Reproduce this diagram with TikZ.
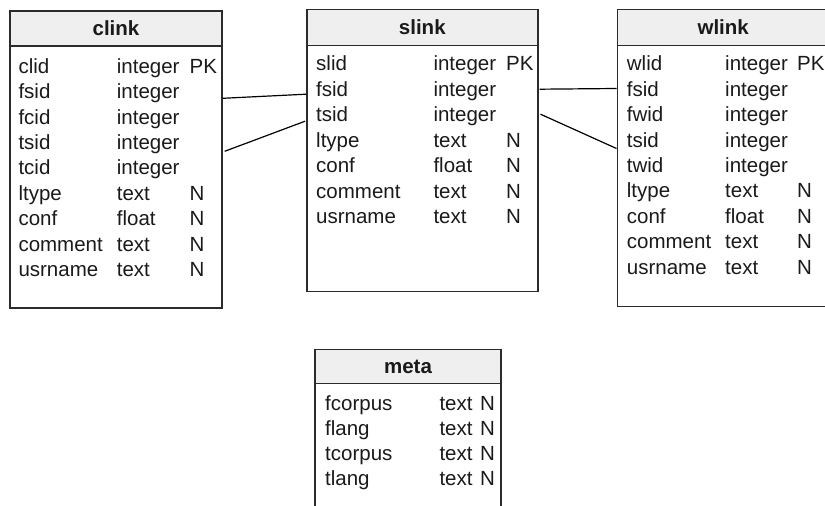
\documentclass[tikz,border=0pt]{standalone}
\usepackage{fontspec}
\setmainfont{Liberation Sans}
\usepackage{tikz}
\usetikzlibrary{positioning}

\definecolor{hdrgray}{HTML}{EFEFEF}
\definecolor{edge}{HTML}{2B2B2B}
\definecolor{txt}{HTML}{1A1A1A}

\begin{document}
\begin{tikzpicture}[x=1pt, y=-1pt,
  font=\fontsize{20.5}{24}\selectfont, text=txt,
  tbl/.style={draw=edge, line width=1.4pt, inner sep=0pt},
  hdr/.style={tbl, fill=hdrgray, font=\fontsize{20.5}{24}\selectfont\bfseries},
  fld/.style={anchor=west, inner sep=0pt, text height=15pt, text depth=0pt},
  link/.style={draw=black, line width=1.2pt},
]
\useasboundingbox (0,0) rectangle (825,506);
\clip (0,0) rectangle (825,506);

% tables
\node[tbl, minimum width=212pt, minimum height=297pt] (clink) at (116,159.5) {};
\node[hdr, minimum width=212pt, minimum height=35pt, anchor=north] (clink-h) at (clink.north) {clink};

\node[tbl, minimum width=231pt, minimum height=282pt] (slink) at (422.3,150.2) {};
\node[hdr, minimum width=231pt, minimum height=36pt, anchor=north] (slink-h) at (slink.north) {slink};

\node[tbl, minimum width=212pt, minimum height=297pt] (wlink) at (723.2,157.7) {};
\node[hdr, minimum width=212pt, minimum height=36pt, anchor=north] (wlink-h) at (wlink.north) {wlink};

\node[tbl, minimum width=186pt, minimum height=190pt] (meta) at (408,444.5) {};
\node[hdr, minimum width=186pt, minimum height=34pt, anchor=north] (meta-h) at (meta.north) {meta};

% fields
\foreach \n/\t/\k [count=\i from 0] in {clid/integer/PK, fsid/integer/{}, fcid/integer/{},
    tsid/integer/{}, tcid/integer/{}, ltype/text/N, conf/float/N, comment/text/N, usrname/text/N} {
  \node[fld] (clink-\n) at (18.3,{65.7+25.4*\i}) {\n};
  \node[fld] (clink-\n-t) at (116.7,{65.7+25.4*\i}) {\t};
  \node[fld] (clink-\n-k) at (189.5,{65.7+25.4*\i}) {\k};
}
\foreach \n/\t/\k [count=\i from 0] in {slid/integer/PK, fsid/integer/{}, tsid/integer/{},
    ltype/text/N, conf/float/N, comment/text/N, usrname/text/N} {
  \node[fld] (slink-\n) at (316,{63.3+25.45*\i}) {\n};
  \node[fld] (slink-\n-t) at (433.3,{63.3+25.45*\i}) {\t};
  \node[fld] (slink-\n-k) at (506,{63.3+25.45*\i}) {\k};
}
\foreach \n/\t/\k [count=\i from 0] in {wlid/integer/PK, fsid/integer/{}, fwid/integer/{},
    tsid/integer/{}, twid/integer/{}, ltype/text/N, conf/float/N, comment/text/N, usrname/text/N} {
  \node[fld] (wlink-\n) at (626.7,{63.3+25.4*\i}) {\n};
  \node[fld] (wlink-\n-t) at (725,{63.3+25.4*\i}) {\t};
  \node[fld] (wlink-\n-k) at (797,{63.3+25.4*\i}) {\k};
}
\foreach \n [count=\i from 0] in {fcorpus, flang, tcorpus, tlang} {
  \node[fld] (meta-\n) at (325,{403.3+25*\i}) {\n};
  \node[fld] (meta-\n-t) at (439.3,{403.3+25*\i}) {text};
  \node[fld] (meta-\n-k) at (480,{403.3+25*\i}) {N};
}

% links
\draw[link] ([yshift=-88pt]clink.north east) -- ([yshift=-85.7pt]slink.north west);
\draw[link] ([xshift=2pt,yshift=-141pt]clink.north east) -- ([xshift=-1pt,yshift=-112.7pt]slink.north west);
\draw[link] ([xshift=1pt,yshift=-80.7pt]slink.north east) -- ([yshift=-80pt]wlink.north west);
\draw[link] ([xshift=2pt,yshift=-105.7pt]slink.north east) -- ([yshift=-140pt]wlink.north west);
\end{tikzpicture}
\end{document}
